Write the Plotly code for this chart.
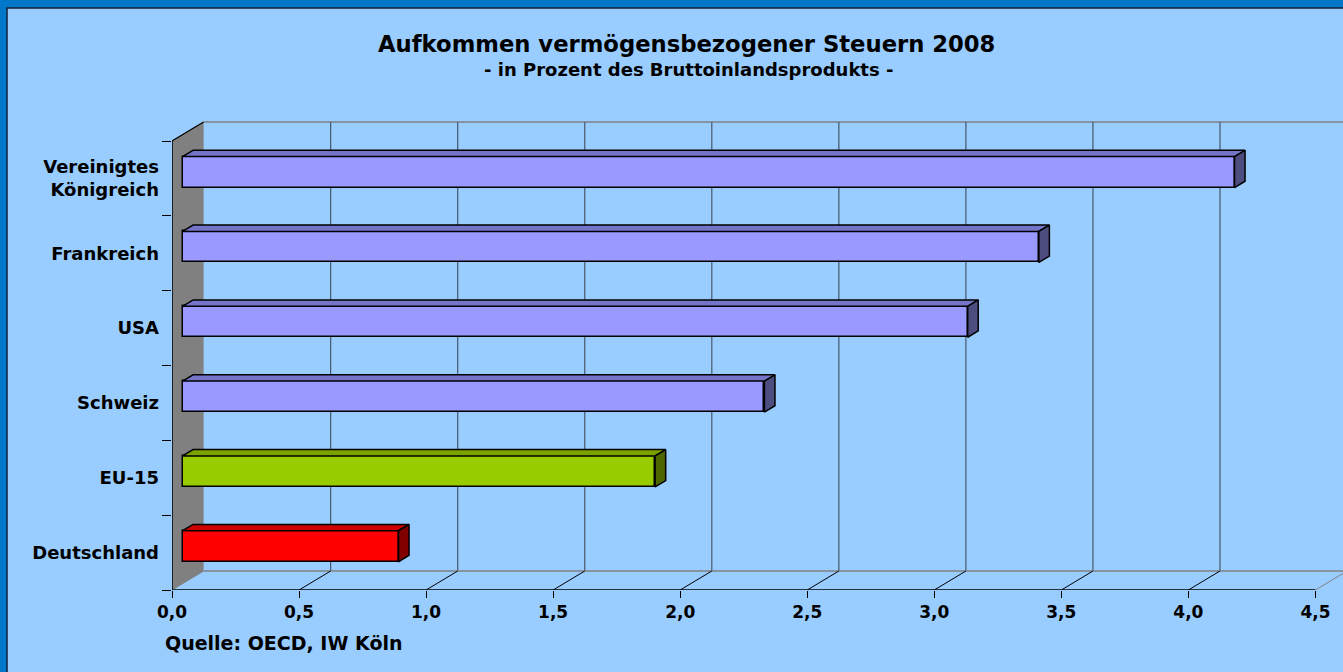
import plotly.graph_objects as go

# ---------------- data ----------------
categories = ["Deutschland", "EU-15", "Schweiz", "USA", "Frankreich", "Vereinigtes<br>Königreich"]
values = [0.85, 1.86, 2.29, 3.09, 3.37, 4.14]
x_ticks = [0.0, 0.5, 1.0, 1.5, 2.0, 2.5, 3.0, 3.5, 4.0, 4.5]
title_text = "Aufkommen vermögensbezogener Steuern 2008"
subtitle_text = "- in Prozent des Bruttoinlandsprodukts -"
source_text = "Quelle: OECD, IW Köln"

# ---------------- styles ----------------
front_colors = ["#FF0000", "#99CC00", "#9999FF", "#9999FF", "#9999FF", "#9999FF"]
top_colors = ["#CC0000", "#7AA300", "#7474C8", "#7474C8", "#7474C8", "#7474C8"]
side_colors = ["#800000", "#4D6600", "#4D4D80", "#4D4D80", "#4D4D80", "#4D4D80"]
FONT = "DejaVu Sans"
OUTER = "#0077C8"
INNER = "#99CCFF"
GRID = "#46586A"

WIDTH, HEIGHT = 1343, 672
L, R, T, B = 172, 0, 112, 82
PW, PH = WIDTH - L - R, HEIGHT - T - B
PX_X = 254.1   # pixels per x unit
PX_Y = 74.83   # pixels per category band
XMAX = PW / PX_X
YMAX = PH / PX_Y
DX = 31.6 / PX_X   # 3D depth offset (x units)
DY = 19.0 / PX_Y   # 3D depth offset (y units)
n = len(categories)
DXF, DYF = DX / 3, DY / 3          # bar front plane
DXB, DYB = 2 * DX / 3, 2 * DY / 3  # bar back plane
BAR_H = 0.414


def px_paper(px, py):
    return (px - L) / PW, (HEIGHT - B - py) / PH


fig = go.Figure()

# front faces of bars
centers = [i + 0.5 + DYF for i in range(n)]
fig.add_trace(go.Bar(
    y=centers, x=values, base=[DXF] * n, orientation="h", width=BAR_H,
    marker=dict(color=front_colors, line=dict(color="black", width=1.5)),
    hoverinfo="skip", showlegend=False,
))

# top and side faces
for i, v in enumerate(values):
    c = centers[i]
    yt, yb = c + BAR_H / 2, c - BAR_H / 2
    d = DYB - DYF
    fig.add_trace(go.Scatter(
        x=[DXF, DXF + v, DXB + v, DXB, DXF],
        y=[yt, yt, yt + d, yt + d, yt],
        mode="lines", fill="toself", fillcolor=top_colors[i],
        line=dict(color="black", width=1.5), hoverinfo="skip", showlegend=False,
    ))
    fig.add_trace(go.Scatter(
        x=[DXF + v, DXB + v, DXB + v, DXF + v, DXF + v],
        y=[yt, yt + d, yb + d, yb, yt],
        mode="lines", fill="toself", fillcolor=side_colors[i],
        line=dict(color="black", width=1.5), hoverinfo="skip", showlegend=False,
    ))

shapes = []
# inner light panel
x0p, y0p = px_paper(7, 8)
x1p, y1p = px_paper(WIDTH + 6, HEIGHT + 6)
shapes.append(dict(type="rect", xref="paper", yref="paper", x0=x0p, y0=y1p, x1=x1p, y1=y0p,
                   fillcolor=INNER, line=dict(color="#10203A", width=1.5), layer="below"))
# left wall
shapes.append(dict(type="path", xref="x", yref="y",
                   path=f"M0,0 L0,{n} L{DX},{n + DY} L{DX},{DY} Z",
                   fillcolor="#808080", line=dict(width=0), layer="below"))
# back wall top edge
shapes.append(dict(type="line", xref="x", yref="y", x0=DX, y0=n + DY, x1=XMAX + 1, y1=n + DY,
                   line=dict(color="#808080", width=1.5), layer="below"))
# back wall gridlines
for t in x_ticks[1:]:
    shapes.append(dict(type="line", xref="x", yref="y", x0=t + DX, y0=DY, x1=t + DX, y1=n + DY,
                       line=dict(color=GRID, width=1.2), layer="below"))
# floor back edge
shapes.append(dict(type="line", xref="x", yref="y", x0=DX, y0=DY, x1=XMAX + 1, y1=DY,
                   line=dict(color="#808080", width=1.5), layer="below"))
# floor diagonals
for t in x_ticks:
    col = "#808080" if t in (x_ticks[0], x_ticks[-1]) else "black"
    shapes.append(dict(type="line", xref="x", yref="y", x0=t, y0=0, x1=t + DX, y1=DY,
                       line=dict(color=col, width=1), layer="below"))
# front axes
shapes.append(dict(type="line", xref="x", yref="y", x0=0, y0=0, x1=x_ticks[-1], y1=0,
                   line=dict(color="black", width=1.5), layer="above"))
shapes.append(dict(type="line", xref="x", yref="y", x0=0, y0=0, x1=0, y1=n,
                   line=dict(color="black", width=1.5), layer="above"))
# left wall top edge
shapes.append(dict(type="line", xref="x", yref="y", x0=0, y0=n, x1=DX, y1=n + DY,
                   line=dict(color="black", width=1.2), layer="above"))

annotations = []
tx, ty = px_paper(686.5, 44)
annotations.append(dict(xref="paper", yref="paper", x=tx, y=ty, text=title_text, showarrow=False,
                        xanchor="center", yanchor="middle",
                        font=dict(family=FONT, size=22.7, weight="bold", color="black")))
sx, sy = px_paper(688.5, 69)
annotations.append(dict(xref="paper", yref="paper", x=sx, y=sy, text=subtitle_text, showarrow=False,
                        xanchor="center", yanchor="middle",
                        font=dict(family=FONT, size=18, weight="bold", color="black")))
qx, qy = px_paper(163, 643)
annotations.append(dict(xref="paper", yref="paper", x=qx, y=qy, text=source_text, showarrow=False,
                        xanchor="left", yanchor="middle",
                        font=dict(family=FONT, size=19, weight="bold", color="black")))

# tick marks on category boundaries (overlay axis)
fig.add_trace(go.Scatter(x=[None], y=[None], yaxis="y2", showlegend=False, hoverinfo="skip"))

fig.update_layout(
    width=WIDTH, height=HEIGHT,
    margin=dict(l=L, r=R, t=T, b=B, pad=0),
    paper_bgcolor=OUTER, plot_bgcolor="rgba(0,0,0,0)",
    separators=",.",
    showlegend=False,
    shapes=shapes, annotations=annotations,
    bargap=0,
    xaxis=dict(range=[0, XMAX], tickvals=x_ticks, tickformat=".1f", ticks="outside", ticklen=7,
               tickcolor="black", tickwidth=1.2, showgrid=False, zeroline=False, showline=False,
               tickfont=dict(family=FONT, size=17, weight="bold", color="black"), fixedrange=True),
    yaxis=dict(range=[0, YMAX], tickvals=[i + 0.5 for i in range(n)], ticktext=categories,
               ticks="", showgrid=False, zeroline=False, showline=False, ticklabelstandoff=12,
               tickfont=dict(family=FONT, size=18, weight="bold", color="black"), fixedrange=True),
    yaxis2=dict(range=[0, YMAX], overlaying="y", side="left", tickvals=list(range(n + 1)),
                ticks="outside", ticklen=9, tickcolor="black", tickwidth=1.2,
                showticklabels=False, showgrid=False, zeroline=False, showline=False, fixedrange=True),
)

fig.write_html("out.html", config={"displayModeBar": False},
               post_script="document.body.style.margin='0';document.body.style.overflow='hidden';")
